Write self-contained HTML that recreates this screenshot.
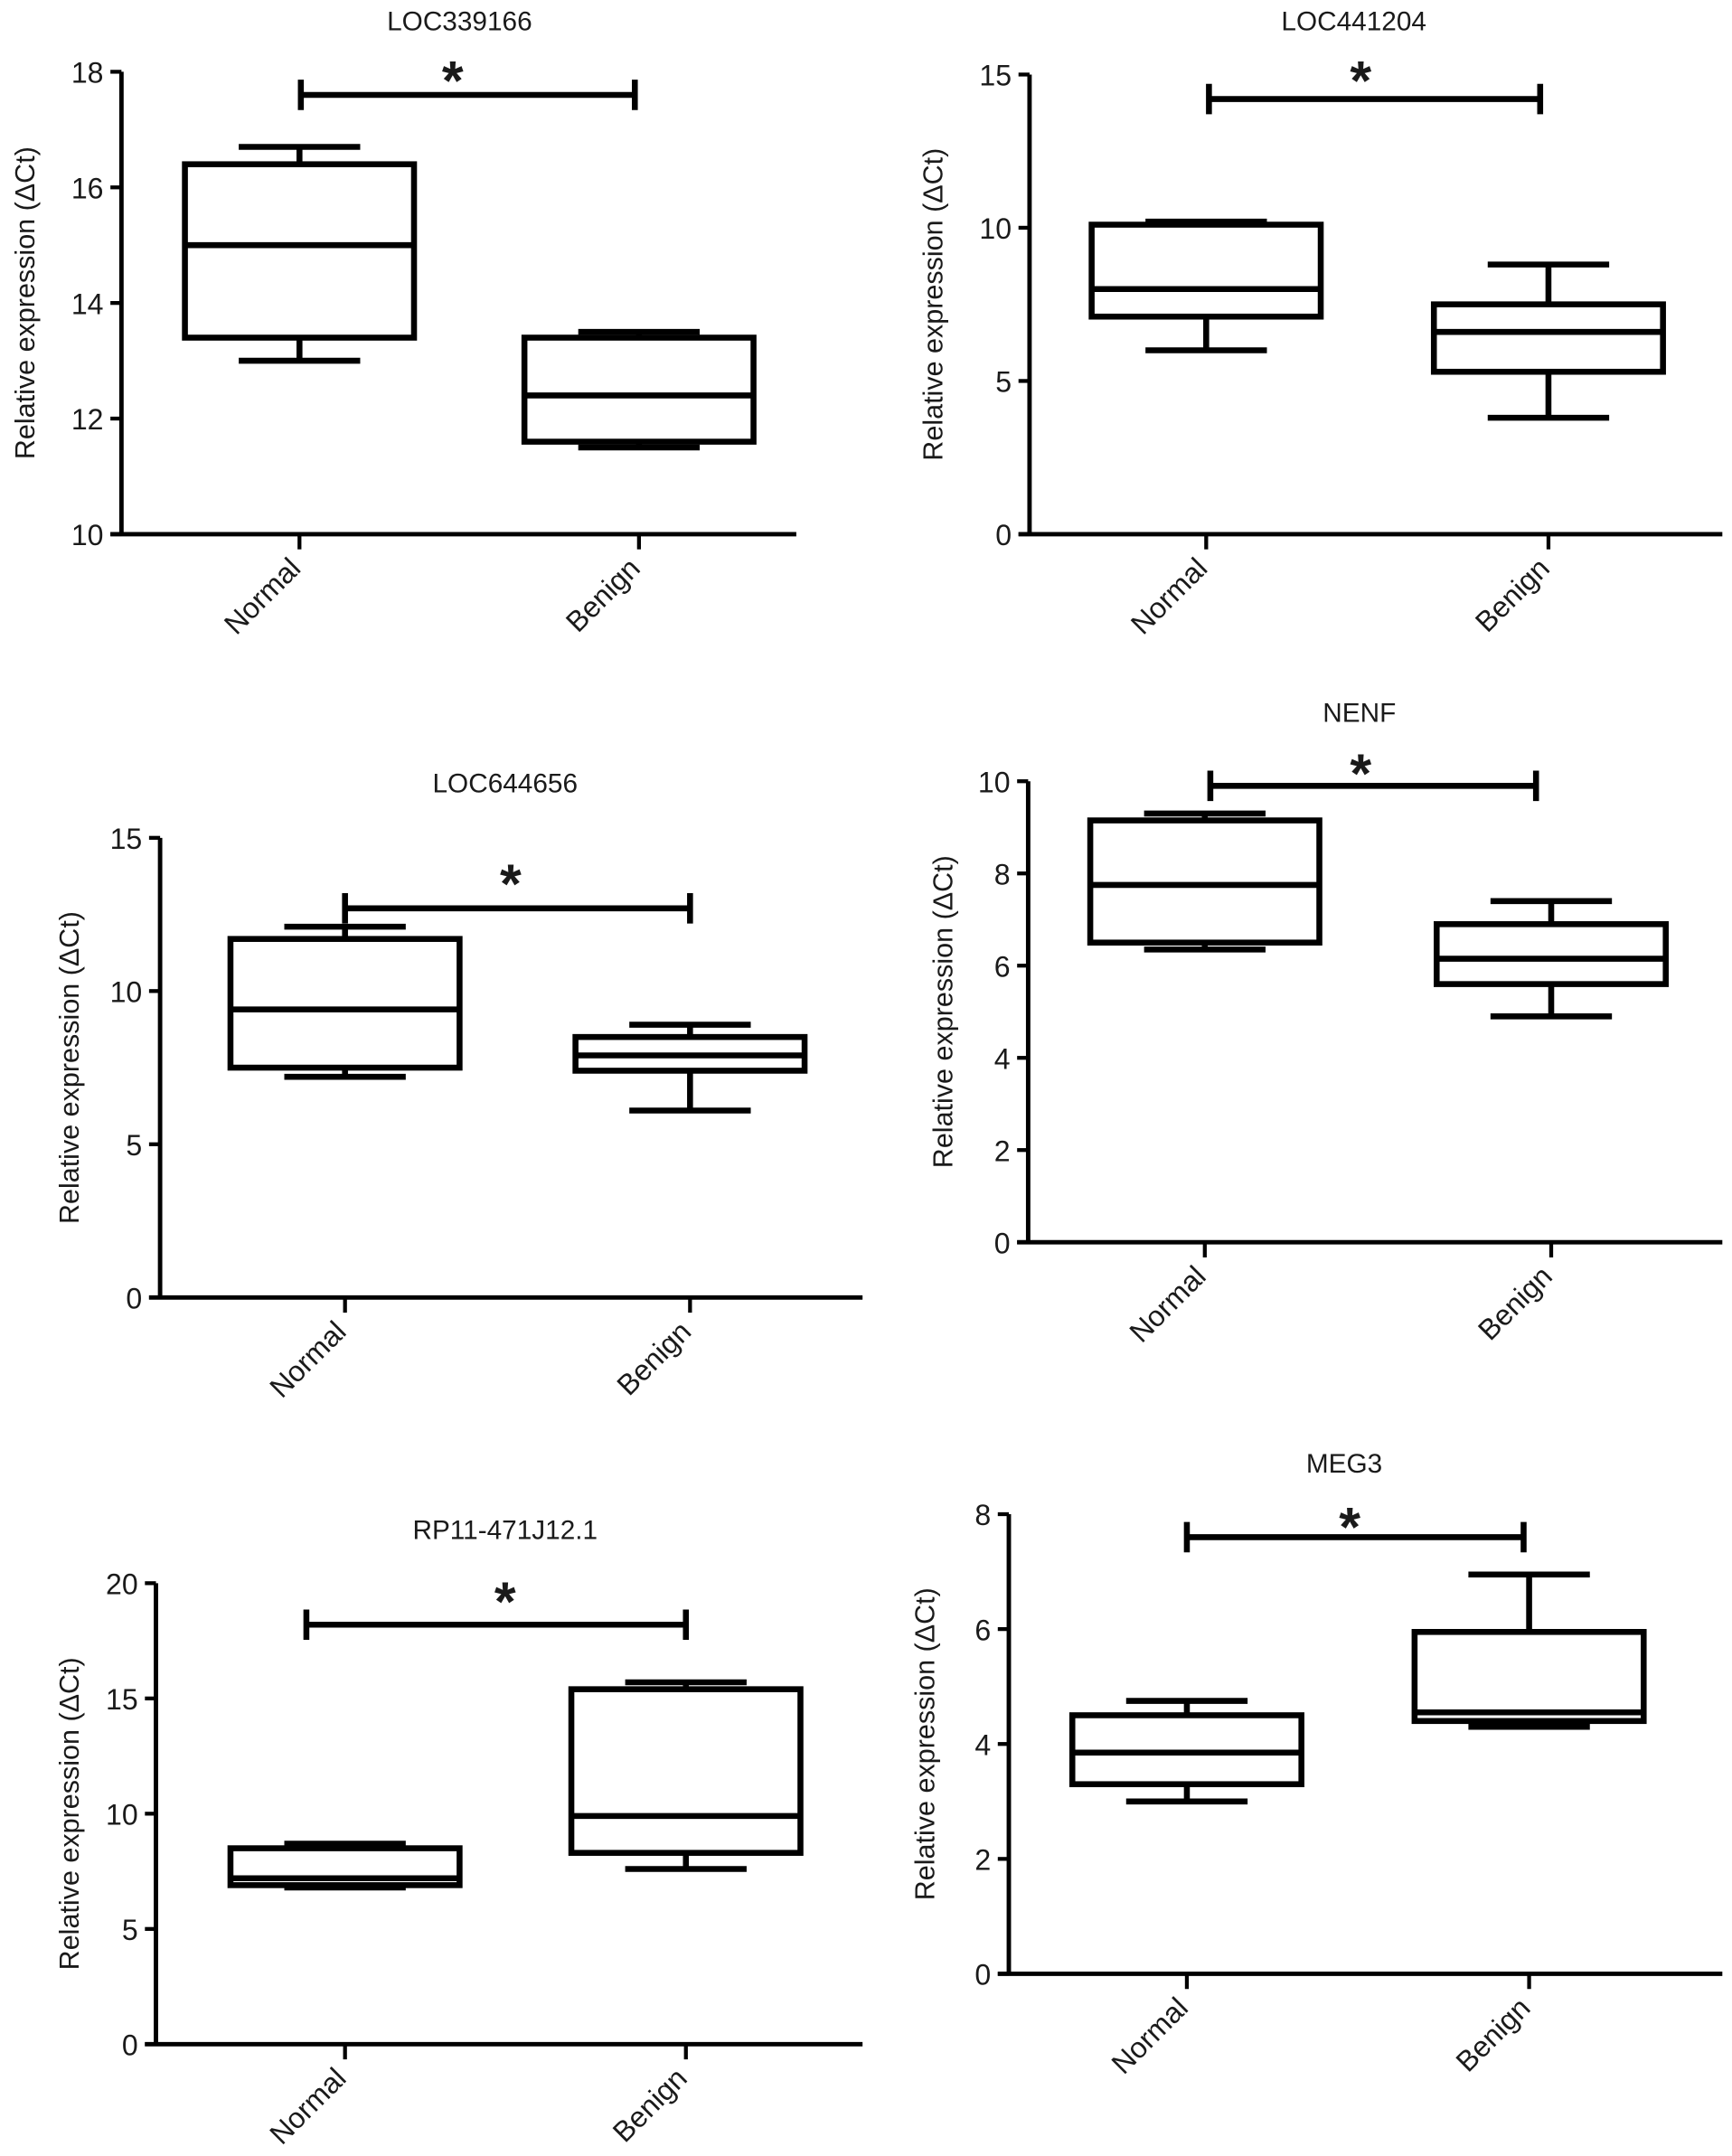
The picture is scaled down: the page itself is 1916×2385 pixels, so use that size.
<!DOCTYPE html>
<html><head><meta charset="utf-8"><style>
html,body{margin:0;padding:0;background:#fff}
svg{display:block}
text{font-family:"Liberation Sans",Arial,sans-serif;fill:#1a1a1a}
</style></head><body>
<svg id="fig" width="1916" height="2385" viewBox="0 0 1255 1562" preserveAspectRatio="none" xmlns="http://www.w3.org/2000/svg"></svg>
<script>
const panelTitles=["LOC339166","LOC441204","LOC644656","NENF","RP11-471J12.1","MEG3"];
const categories=["Normal","Benign"];
// [min, q1, median, q3, max]
const normalStats=[[13.0,13.4,15.0,16.4,16.7],[6.0,7.1,8.0,10.1,10.2],[7.2,7.5,9.4,11.7,12.1],[6.35,6.5,7.75,9.15,9.3],[6.8,6.9,7.2,8.5,8.7],[3.0,3.3,3.85,4.5,4.75]];
const benignStats=[[11.5,11.6,12.4,13.4,13.5],[3.8,5.3,6.6,7.5,8.8],[6.1,7.4,7.9,8.5,8.9],[4.9,5.6,6.15,6.9,7.4],[7.6,8.3,9.9,15.4,15.7],[4.3,4.4,4.55,5.95,6.95]];
const yMins=[10,0,0,0,0,0];
const yMaxs=[18,15,15,10,20,8];
const yTickLabels=[["10","12","14","16","18"],["0","5","10","15"],["0","5","10","15"],["0","2","4","6","8","10"],["0","5","10","15","20"],["0","2","4","6","8"]];
const sigLevels=[17.6,14.2,12.7,9.9,18.2,7.6];

const layouts=[
 {ax:88,top:52,bot:387,right:577,c:[217,463],tx:333,ty:22,yt:18,sx:[218,460],star:[328,58]},
 {ax:746,top:54,bot:387,right:1248,c:[874,1122],tx:981,ty:22,yt:676,sx:[876,1116],star:[986,58]},
 {ax:116,top:607,bot:940,right:625,c:[250,500],tx:366,ty:574,yt:50,sx:[250,500],star:[370,640]},
 {ax:745,top:566,bot:900,right:1248,c:[873,1124],tx:985,ty:523,yt:683,sx:[877,1113],star:[986,560]},
 {ax:113,top:1147,bot:1481,right:625,c:[250,497],tx:366,ty:1115,yt:50,sx:[222,497],star:[366,1160]},
 {ax:731,top:1097,bot:1430,right:1248,c:[860,1108],tx:974,ty:1067,yt:670,sx:[860,1104],star:[978,1106]}
];
const NS="http://www.w3.org/2000/svg";
const svg=document.getElementById('fig');
function mk(tag,attrs,parent,txt){const e=document.createElementNS(NS,tag);for(const k in attrs)e.setAttribute(k,attrs[k]);if(txt!==undefined)e.textContent=txt;parent.appendChild(e);return e;}
const SW=4.3;
layouts.forEach((L,i)=>{
  const g=mk('g',{},svg);
  
  
  const y=v=>L.bot-(v-yMins[i])/(yMaxs[i]-yMins[i])*(L.bot-L.top);
  const t=mk('text',{x:L.tx,y:L.ty,'text-anchor':'middle','font-size':19.5},g,panelTitles[i]);
  
  
  const ya=mk('line',{x1:L.ax,y1:L.top,x2:L.ax,y2:L.bot,stroke:'#000','stroke-width':3.2},g);
  
  
  const xa=mk('line',{x1:L.ax-8,y1:L.bot,x2:L.right,y2:L.bot,stroke:'#000','stroke-width':3.2},g);
  
  
  const labs=yTickLabels[i];
  labs.forEach(lb=>{
    const v=parseFloat(lb),yy=y(v);
    mk('line',{x1:L.ax-8,y1:yy,x2:L.ax,y2:yy,stroke:'#000','stroke-width':2.8},g);
    const tl=mk('text',{x:L.ax-13,y:yy+8,'text-anchor':'end','font-size':21},g,lb);
    
    
  });
  const ymid=(L.top+L.bot)/2;
  const yt=mk('text',{x:L.yt,y:ymid,'text-anchor':'middle','font-size':20,transform:`rotate(-90 ${L.yt} ${ymid})`,dy:7},g,'Relative expression (\u0394Ct)');
  
  
  const stats=[normalStats[i],benignStats[i]];
  categories.forEach((c,j)=>{
    const cx=L.c[j];
    mk('line',{x1:cx,y1:L.bot,x2:cx,y2:L.bot+11,stroke:'#000','stroke-width':2.8},g);
    const ct=mk('text',{x:cx+2,y:L.bot+26,'text-anchor':'end','font-size':21,transform:`rotate(-45 ${cx+2} ${L.bot+26})`},g,c);
    
    
    const s=stats[j];
    const bg=mk('g',{fill:'none',stroke:'#000','stroke-width':SW},g);
    
    
    mk('line',{x1:cx,y1:y(s[0]),x2:cx,y2:y(s[1])},bg);
    mk('line',{x1:cx,y1:y(s[3]),x2:cx,y2:y(s[4])},bg);
    mk('line',{x1:cx-44,y1:y(s[0]),x2:cx+44,y2:y(s[0])},bg);
    mk('line',{x1:cx-44,y1:y(s[4]),x2:cx+44,y2:y(s[4])},bg);
    mk('rect',{x:cx-83,y:y(s[3]),width:166,height:y(s[1])-y(s[3])},bg);
    mk('line',{x1:cx-83,y1:y(s[2]),x2:cx+83,y2:y(s[2])},bg);
  });
  const sy=y(sigLevels[i]);
  const sg=mk('g',{stroke:'#000','stroke-width':SW},g);
  
  
  mk('line',{x1:L.sx[0],y1:sy,x2:L.sx[1],y2:sy},sg);
  mk('line',{x1:L.sx[0],y1:sy-11,x2:L.sx[0],y2:sy+11},sg);
  mk('line',{x1:L.sx[1],y1:sy-11,x2:L.sx[1],y2:sy+11},sg);
  const st=mk('text',{x:L.star[0],y:L.star[1]+14,'text-anchor':'middle','font-size':40,'font-weight':'bold'},g,'*');
  
  
});
</script>
</body></html>
